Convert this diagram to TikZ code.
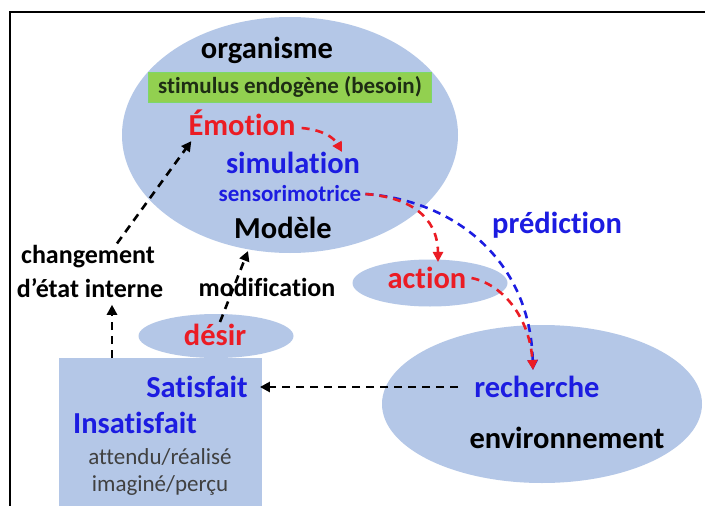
\documentclass[tikz,border=0pt]{standalone}
\usepackage{fontspec}
\setmainfont{Carlito}[Ligatures=NoCommon]
\usetikzlibrary{shapes.geometric,arrows.meta}
\definecolor{fillb}{RGB}{180,199,231}
\definecolor{gfill}{RGB}{146,208,80}
\definecolor{gdraw}{RGB}{125,215,105}
\definecolor{tred}{RGB}{235,28,36}
\definecolor{tblue}{RGB}{28,28,225}
\definecolor{tgray}{RGB}{64,64,64}
\definecolor{tgreen}{RGB}{30,45,20}
\begin{document}
\begin{tikzpicture}[x=1pt,y=-1pt,
  blob/.style={ellipse,fill=fillb,inner sep=0},
  big/.style={inner sep=0,font=\bfseries\fontsize{30.5}{32}\selectfont},
  midl/.style={inner sep=0,font=\bfseries\fontsize{26}{28}\selectfont},
  small/.style={inner sep=0,font=\bfseries\fontsize{23}{25}\selectfont},
  plain/.style={inner sep=0,font=\fontsize{23}{25}\selectfont,text=tgray},
  conn/.style={dash pattern=on 8pt off 6pt,line width=2.6pt,-{Triangle[length=10pt,width=10pt]}},
  kconn/.style={conn,draw=black},
  rconn/.style={conn,draw=tred,-{Triangle[length=10pt,width=10pt,fill=tred]}},
  bconn/.style={conn,draw=tblue}
]
\useasboundingbox (0,0) rectangle (705,506);
\fill[white] (0,0) rectangle (705,506);
\draw[line width=2pt] (10,506) -- (10,12) -- (705,12);

% shapes
\node[blob,minimum width=336pt,minimum height=236pt] (org) at (290,135) {};
\node[blob,minimum width=155pt,minimum height=47pt] (actb) at (430,283) {};
\node[blob,minimum width=320pt,minimum height=158pt] (env) at (542,404) {};
\node[blob,minimum width=155pt,minimum height=44pt] (desb) at (216,336) {};
\node[fill=fillb,minimum width=203pt,minimum height=160pt,anchor=north west,inner sep=0] (box) at (59,358) {};
\node[fill=gfill,draw=gdraw,line width=1pt,minimum width=283pt,minimum height=30pt,inner sep=0,
      text=tgreen,font=\bfseries\fontsize{23}{25}\selectfont] (stim) at (290,87) {stimulus endogène (besoin)};

% texts
\node[big] (orgt) at (267,50) {organisme};
\node[big,text=tred] (emo) at (242,123) {Émotion};
\node[big,text=tblue] (sim) at (293,163) {simulation};
\node[small,text=tblue] (sens) at (290,194) {sensorimotrice};
\node[big] (mod) at (283,228) {Modèle};
\node[big,text=tred] (act) at (427,278) {action};
\node[big,text=tblue] (pred) at (557,225) {prédiction};
\node[big,text=tblue] (rech) at (537,387) {recherche};
\node[big] (envt) at (567,438) {environnement};
\node[big,text=tblue] (sat) at (197,387) {Satisfait};
\node[big,text=tblue] (insat) at (135,423) {Insatisfait};
\node[plain] (att) at (160,457) {attendu/réalisé};
\node[plain] (ima) at (160,485) {imaginé/perçu};
\node[midl] (chg) at (88,257) {changement};
\node[midl] (etat) at (90,288) {d’état interne};
\node[midl] (modif) at (267,287) {modification};
\node[big,text=tred] (des) at (215,335) {désir};

% connectors
\draw[rconn] ([xshift=6pt,yshift=-5pt]emo.east) .. controls +(22,2) and +(-8,-14) .. ([xshift=49pt]sim.north);
\draw[bconn] ([xshift=4pt]sens.east) .. controls (452,200) and (530,258) .. ([xshift=-4pt,yshift=6pt]rech.north);
\draw[rconn] ([xshift=4pt]sens.east) .. controls (420,198) and (438,225) .. ([xshift=11pt,yshift=5pt]act.north);
\draw[rconn] ([xshift=5pt]act.east) .. controls (505,285) and (530,320) .. ([xshift=-4pt,yshift=6pt]rech.north);
\draw[kconn] ([xshift=-16pt]rech.west) -- ([xshift=12pt]sat.east);
\draw[kconn] ([xshift=29pt,yshift=2pt]chg.north) -- ([xshift=3pt,yshift=-5pt]emo.south west);
\draw[kconn] ([xshift=5pt,yshift=2pt]des.north) -- ([xshift=-35pt,yshift=-12pt]mod.south);
\draw[kconn] ([xshift=53pt]box.north west) -- ([xshift=22pt,yshift=-7pt]etat.south);
\end{tikzpicture}
\end{document}
